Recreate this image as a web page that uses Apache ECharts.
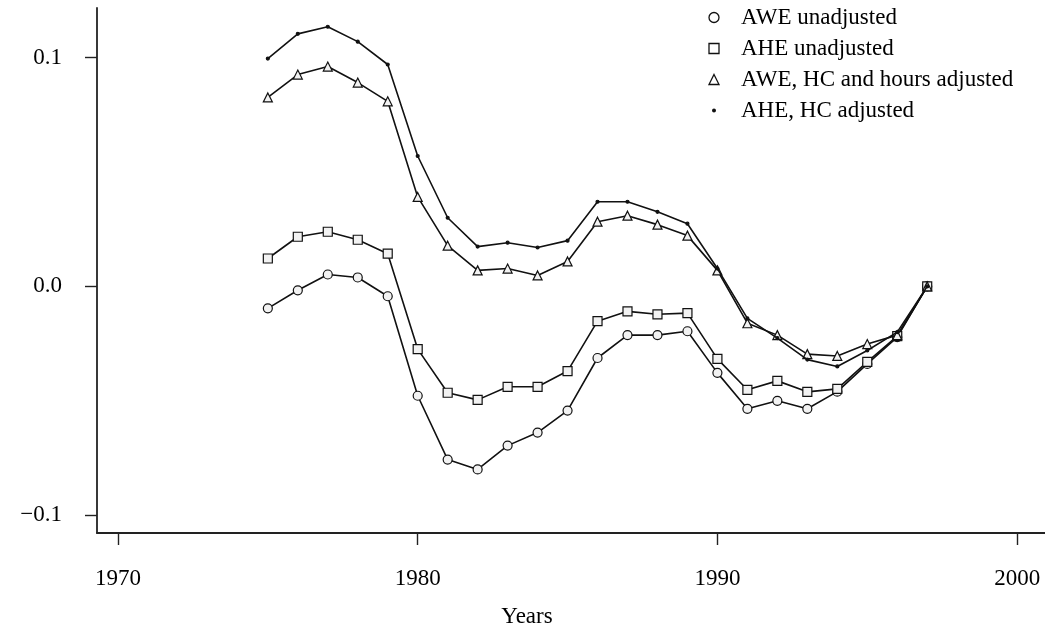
<!DOCTYPE html>
<html>
<head>
<meta charset="utf-8">
<script src="https://cdn.jsdelivr.net/npm/echarts@6/dist/echarts.min.js"></script>
<style>
html,body{margin:0;padding:0;background:#fff;}
#chart{width:1045px;height:633px;}
</style>
</head>
<body>
<div id="chart"></div>
<script>
// ---- data ----
const years = [1975,1976,1977,1978,1979,1980,1981,1982,1983,1984,1985,1986,1987,1988,1989,1990,1991,1992,1993,1994,1995,1996,1997];
const aweUnadjusted = [-0.0096,-0.0017,0.0052,0.0039,-0.0043,-0.0478,-0.0757,-0.0800,-0.0696,-0.0639,-0.0543,-0.0313,-0.0213,-0.0213,-0.0196,-0.0378,-0.0535,-0.0500,-0.0535,-0.0460,-0.0339,-0.0222,0.0];
const aheUnadjusted = [0.0122,0.0217,0.0239,0.0204,0.0143,-0.0274,-0.0465,-0.0496,-0.0439,-0.0439,-0.0370,-0.0152,-0.0109,-0.0122,-0.0117,-0.0317,-0.0452,-0.0413,-0.0461,-0.0448,-0.0330,-0.0217,0.0];
const aweHcHoursAdjusted = [0.0826,0.0926,0.0961,0.0891,0.0809,0.0391,0.0178,0.0070,0.0078,0.0048,0.0109,0.0283,0.0309,0.0270,0.0222,0.0070,-0.0161,-0.0213,-0.0296,-0.0304,-0.0252,-0.0213,0.0];
const aheHcAdjusted = [0.0996,0.1104,0.1135,0.1070,0.0970,0.0570,0.0300,0.0174,0.0191,0.0170,0.0200,0.0370,0.0370,0.0326,0.0274,0.0078,-0.0140,-0.0226,-0.0320,-0.0350,-0.0280,-0.0200,0.0];
const seriesNames = ['AWE unadjusted','AHE unadjusted','AWE, HC and hours adjusted','AHE, HC adjusted'];
const xTickValues = [1970,1980,1990,2000];
const yTickValues = [-0.1,0.0,0.1];
const xAxisTitle = 'Years';

const FONT = 'Liberation Serif';
const INK = '#111';

function pairs(vals){ return years.map((y,i)=>[y, vals[i]]); }

const seriesData = [aweUnadjusted, aheUnadjusted, aweHcHoursAdjusted, aheHcAdjusted];
const symbols = ['circle','rect','triangle','circle'];
const symbolSizes = [9,9,9,3];
const fills = ['#f2f2f2','#f2f2f2','#f2f2f2',INK];

const chart = echarts.init(document.getElementById('chart'), null, {renderer:'canvas'});
chart.setOption({
  animation:false,
  backgroundColor:'#fff',
  textStyle:{fontFamily:FONT},
  grid:{left:97, top:8, right:0, bottom:97, containLabel:false},
  legend:{
    orient:'vertical',
    left:701, top:1,
    itemWidth:10, itemHeight:10,
    itemGap:8,
    textStyle:{fontFamily:FONT, fontSize:23, color:'#000', lineHeight:23, padding:[0,0,0,17]},
    data: seriesNames.map((n,i)=>({
      name:n,
      icon: i===1 ? 'rect' : (i===2 ? 'triangle' : 'circle'),
      itemStyle: i===3 ? {color:INK, borderColor:'#fff', borderWidth:6}
                       : {color:'#fff', borderColor:INK, borderWidth:1.3}
    }))
  },
  xAxis:{
    type:'value',
    min:1969.3, max:2000.93,
    name:xAxisTitle,
    nameLocation:'middle',
    nameGap:72,
    nameTextStyle:{fontFamily:FONT, fontSize:23, color:'#000', padding:[0,88,0,0]},
    axisLine:{show:true, onZero:false, lineStyle:{color:'#222', width:1.8}},
    axisTick:{show:true, length:12, lineStyle:{color:'#222', width:1.4}, customValues:xTickValues},
    axisLabel:{fontFamily:FONT, fontSize:23, color:'#000', margin:34, customValues:xTickValues,
               formatter:v=>String(Math.round(v))},
    splitLine:{show:false}
  },
  yAxis:{
    type:'value',
    min:-0.1078, max:0.1217,
    axisLine:{show:true, onZero:false, lineStyle:{color:'#222', width:1.8}},
    axisTick:{show:true, length:12, lineStyle:{color:'#222', width:1.4}, customValues:yTickValues},
    axisLabel:{fontFamily:FONT, fontSize:23, color:'#000', margin:35, customValues:yTickValues,
               formatter:v=> v<0 ? '\u2212'+Math.abs(v).toFixed(1) : v.toFixed(1)},
    splitLine:{show:false}
  },
  series: seriesNames.map((n,i)=>({
    name:n,
    type:'line',
    data:pairs(seriesData[i]),
    symbol:symbols[i],
    symbolSize:symbolSizes[i],
    showAllSymbol:true,
    lineStyle:{color:INK, width:1.6},
    itemStyle:{color:fills[i], borderColor:INK, borderWidth:1.2},
    emphasis:{disabled:true},
    z: 2+i
  }))
});
</script>
</body>
</html>
